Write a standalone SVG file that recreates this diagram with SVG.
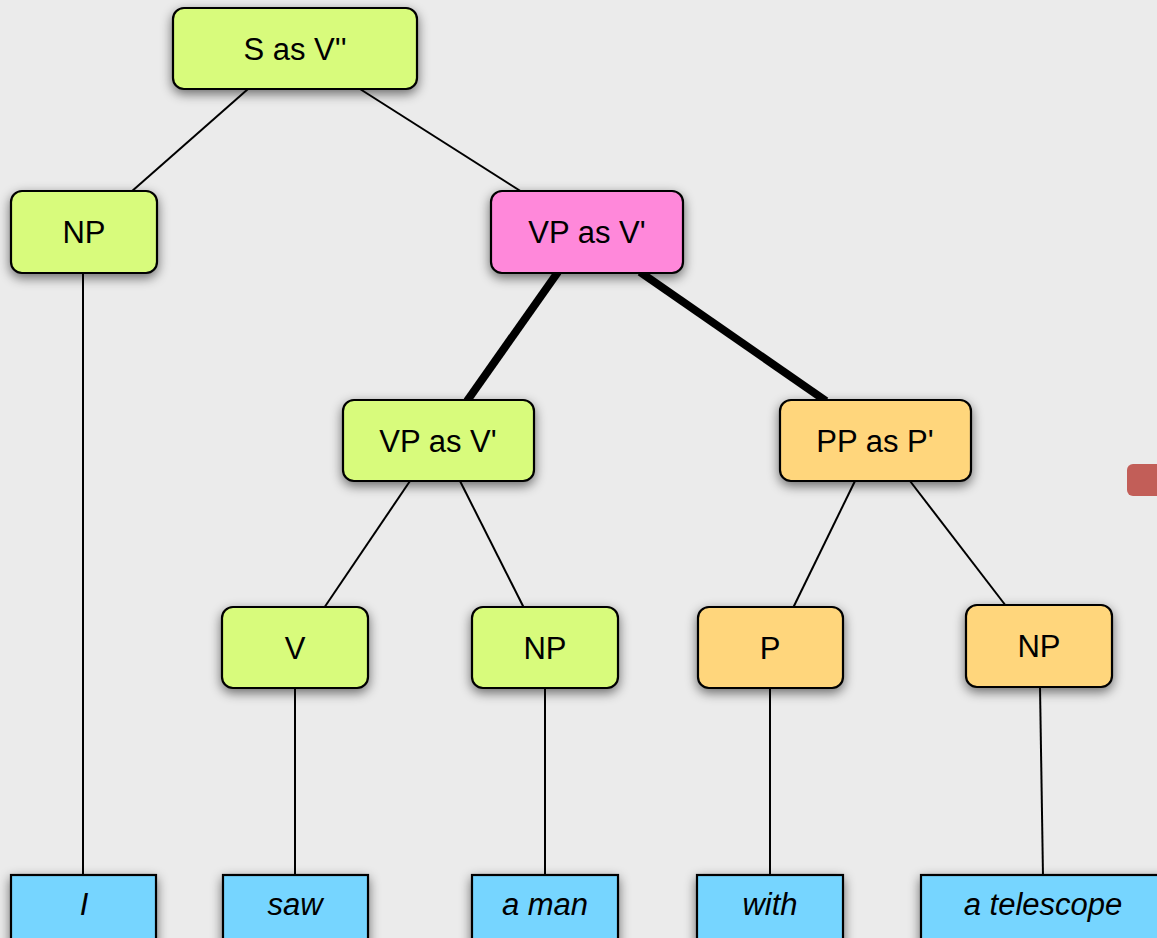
<svg xmlns="http://www.w3.org/2000/svg" width="1157" height="938" viewBox="0 0 1157 938">
<defs>
<filter id="sh" x="-20%" y="-30%" width="140%" height="170%">
<feGaussianBlur in="SourceAlpha" stdDeviation="6"/>
<feOffset dx="0" dy="4" result="b"/>
<feComponentTransfer><feFuncA type="linear" slope="0.55"/></feComponentTransfer>
<feMerge><feMergeNode/><feMergeNode in="SourceGraphic"/></feMerge>
</filter>
</defs>
<style>
.n{stroke:#000;stroke-width:2.2;filter:url(#sh)}
.g{fill:#D8FB7B}
.p{fill:#FF88DA}
.o{fill:#FFD67C}
.b{fill:#76D5FF}
.t{font-family:"Liberation Sans",Arial,sans-serif;font-size:31px;fill:#000;text-anchor:middle}
.i{font-style:italic}
.e{stroke:#000;stroke-width:2;fill:none}
.e2{stroke:#000;stroke-width:8;fill:none}
</style>
<rect width="1157" height="938" fill="#EBEBEB"/>
<rect x="1127" y="464" width="40" height="32" rx="6" fill="#C25E58"/>
<g id="connectors">
<line class="e" x1="248" y1="89" x2="131" y2="192"/>
<line class="e" x1="360" y1="89" x2="522" y2="192"/>
<line class="e" x1="83" y1="272" x2="83" y2="876"/>
<line class="e2" x1="558" y1="272" x2="467" y2="401"/>
<line class="e2" x1="640" y1="272" x2="826" y2="401"/>
<line class="e" x1="410" y1="481" x2="324" y2="608"/>
<line class="e" x1="460" y1="481" x2="524" y2="608"/>
<line class="e" x1="855" y1="481" x2="793" y2="608"/>
<line class="e" x1="910" y1="481" x2="1006" y2="606"/>
<line class="e" x1="295" y1="688" x2="295" y2="876"/>
<line class="e" x1="545" y1="688" x2="545" y2="876"/>
<line class="e" x1="770" y1="688" x2="770" y2="876"/>
<line class="e" x1="1040" y1="687" x2="1043" y2="876"/>
</g>
<g id="S"><rect class="n g" x="173" y="8" width="244" height="81" rx="11"/><text class="t" x="295" y="60">S as V''</text></g>
<g id="NP1"><rect class="n g" x="11" y="191" width="146" height="82" rx="11"/><text class="t" x="84" y="243">NP</text></g>
<g id="VP1"><rect class="n p" x="491" y="191" width="192" height="82" rx="11"/><text class="t" x="587" y="243">VP as V'</text></g>
<g id="VP2"><rect class="n g" x="343" y="400" width="191" height="81" rx="11"/><text class="t" x="438" y="452">VP as V'</text></g>
<g id="PP"><rect class="n o" x="780" y="400" width="191" height="81" rx="11"/><text class="t" x="875" y="452">PP as P'</text></g>
<g id="V"><rect class="n g" x="222" y="607" width="146" height="81" rx="11"/><text class="t" x="295" y="659">V</text></g>
<g id="NP2"><rect class="n g" x="472" y="607" width="146" height="81" rx="11"/><text class="t" x="545" y="659">NP</text></g>
<g id="P"><rect class="n o" x="698" y="607" width="145" height="81" rx="11"/><text class="t" x="770" y="659">P</text></g>
<g id="NP3"><rect class="n o" x="966" y="605" width="146" height="82" rx="11"/><text class="t" x="1039" y="657">NP</text></g>
<g id="L1"><rect class="n b" x="11" y="875" width="145" height="75"/><text class="t i" x="84" y="915">I</text></g>
<g id="L2"><rect class="n b" x="223" y="875" width="145" height="75"/><text class="t i" x="295" y="915">saw</text></g>
<g id="L3"><rect class="n b" x="472" y="875" width="146" height="75"/><text class="t i" x="545" y="915">a man</text></g>
<g id="L4"><rect class="n b" x="697" y="875" width="146" height="75"/><text class="t i" x="770" y="915">with</text></g>
<g id="L5"><rect class="n b" x="921" y="875" width="250" height="75"/><text class="t i" x="1043" y="915">a telescope</text></g>
</svg>
